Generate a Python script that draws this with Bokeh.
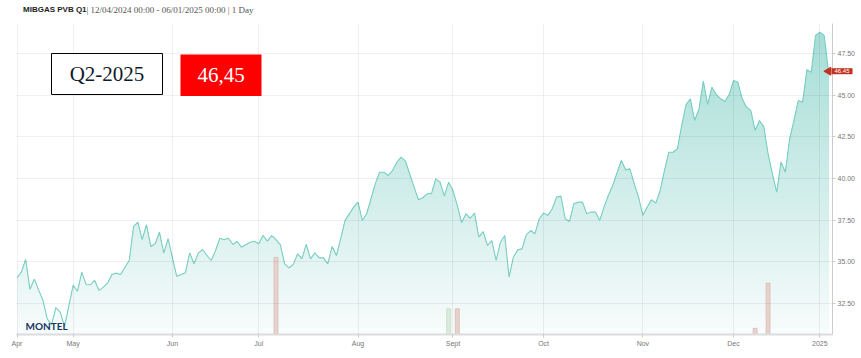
import numpy as np
import pandas as pd
from bokeh.plotting import figure
from bokeh.models import Range1d, FixedTicker, NumeralTickFormatter, BoxAnnotation, Label
from bokeh.embed import file_html
from bokeh.resources import INLINE

# ---------------- data ----------------
start_date = "2024-04-12"
end_date = "2025-01-06"
holidays = ["2024-12-25", "2024-12-26", "2025-01-01"]

dates = [
    "2024-04-12", "2024-04-15", "2024-04-16", "2024-04-17", "2024-04-18", "2024-04-22", "2024-04-23",
    "2024-04-24", "2024-04-25", "2024-04-26", "2024-04-29",
    "2024-05-01", "2024-05-02", "2024-05-03", "2024-05-06", "2024-05-07", "2024-05-08", "2024-05-09",
    "2024-05-10", "2024-05-13", "2024-05-14", "2024-05-15", "2024-05-16", "2024-05-20", "2024-05-21",
    "2024-05-22", "2024-05-23", "2024-05-24", "2024-05-27", "2024-05-28", "2024-05-29", "2024-05-30",
    "2024-05-31",
    "2024-06-04", "2024-06-06", "2024-06-07", "2024-06-10", "2024-06-11", "2024-06-12", "2024-06-13",
    "2024-06-14", "2024-06-17", "2024-06-18", "2024-06-19", "2024-06-20", "2024-06-21", "2024-06-24",
    "2024-06-25", "2024-06-27", "2024-06-28",
    "2024-07-01", "2024-07-02", "2024-07-03", "2024-07-04", "2024-07-05", "2024-07-08", "2024-07-09",
    "2024-07-10", "2024-07-11", "2024-07-12", "2024-07-15", "2024-07-16", "2024-07-17", "2024-07-18",
    "2024-07-19", "2024-07-22", "2024-07-23", "2024-07-24", "2024-07-25", "2024-07-26", "2024-07-29",
    "2024-07-31",
    "2024-08-01", "2024-08-02", "2024-08-05", "2024-08-07", "2024-08-08", "2024-08-09", "2024-08-12",
    "2024-08-13", "2024-08-14", "2024-08-15", "2024-08-16", "2024-08-20", "2024-08-21", "2024-08-22",
    "2024-08-23", "2024-08-26", "2024-08-27", "2024-08-28", "2024-08-29", "2024-08-30",
    "2024-09-02", "2024-09-03", "2024-09-04", "2024-09-05", "2024-09-06", "2024-09-09", "2024-09-10",
    "2024-09-11", "2024-09-12", "2024-09-13", "2024-09-16", "2024-09-17", "2024-09-18", "2024-09-19",
    "2024-09-20", "2024-09-23", "2024-09-24", "2024-09-25", "2024-09-26", "2024-09-27", "2024-09-30",
    "2024-10-01", "2024-10-02", "2024-10-03", "2024-10-04", "2024-10-07", "2024-10-08", "2024-10-09",
    "2024-10-10", "2024-10-11", "2024-10-14", "2024-10-15", "2024-10-16", "2024-10-17", "2024-10-18",
    "2024-10-21", "2024-10-22", "2024-10-23", "2024-10-25", "2024-10-28", "2024-10-29", "2024-10-30",
    "2024-10-31",
    "2024-11-01", "2024-11-04", "2024-11-05", "2024-11-06", "2024-11-07", "2024-11-08", "2024-11-11",
    "2024-11-12", "2024-11-13", "2024-11-14", "2024-11-15", "2024-11-18", "2024-11-19", "2024-11-20",
    "2024-11-21", "2024-11-22", "2024-11-25", "2024-11-26", "2024-11-27", "2024-11-28", "2024-11-29",
    "2024-12-02", "2024-12-03", "2024-12-04", "2024-12-05", "2024-12-06", "2024-12-09", "2024-12-10",
    "2024-12-11", "2024-12-12", "2024-12-13", "2024-12-16", "2024-12-17", "2024-12-18", "2024-12-19",
    "2024-12-20", "2024-12-23", "2024-12-24", "2024-12-27", "2024-12-30", "2024-12-31",
    "2025-01-02", "2025-01-03", "2025-01-06",
]

prices = [
    34.03, 34.37, 35.13, 33.33, 33.95, 32.67, 31.56,
    31.20, 32.23, 31.96, 31.10,
    33.57, 33.22, 34.37, 33.63, 33.61, 33.87, 33.27,
    33.47, 33.71, 34.23, 34.31, 34.23, 35.07, 37.12,
    37.37, 36.32, 37.22, 35.91, 36.08, 36.77, 35.51,
    36.38,
    34.11, 34.33, 35.53, 34.87, 35.51, 35.73, 35.37,
    35.07, 35.67, 36.41, 36.32, 36.41, 36.03, 36.21,
    35.87, 36.17, 36.23,
    36.08, 36.57, 36.23, 36.57, 36.33, 36.03, 34.87,
    34.63, 34.83, 35.47, 35.17, 36.03, 35.17, 35.53,
    35.23, 35.23, 34.87, 35.91, 35.37, 36.38, 37.48,
    38.28,
    38.58, 37.48, 37.88, 39.68, 40.38, 40.38, 40.18,
    40.48, 40.98, 41.28, 41.04, 39.48, 38.72, 38.84,
    39.08, 39.08, 39.98, 39.78, 38.94, 39.78,
    39.28, 38.38, 37.34, 37.88, 37.61, 37.92, 36.47,
    36.81, 35.97, 36.27, 35.07, 36.17, 36.57, 34.07,
    35.27, 35.71, 35.77, 36.63, 36.87, 36.68, 37.58,
    37.92, 37.78, 38.18, 38.88, 38.94, 37.58, 37.42,
    38.48, 38.58, 38.58, 37.88, 37.98, 37.98, 37.48,
    38.28, 38.98, 39.58, 41.08, 40.52, 40.58, 39.68,
    38.88,
    37.78, 38.28, 38.72, 38.52, 39.28, 40.48, 41.58,
    41.58, 41.79, 43.19, 44.45, 44.79, 43.49, 44.19,
    45.85, 44.45, 45.49, 45.05, 44.79, 44.63, 45.05,
    45.89, 45.79, 44.79, 44.29, 44.09, 42.89, 43.49,
    43.13, 41.49, 40.28, 39.18, 40.98, 40.38, 42.39,
    43.49, 44.69, 44.59, 46.54, 46.39, 48.60,
    48.80, 48.60, 46.45,
]

vol_dates = ["2024-07-05", "2024-08-30", "2024-09-03", "2024-12-09", "2024-12-12"]
vol_values = [150, 50, 50, 12, 100]
vol_side = ["sell", "buy", "sell", "sell", "sell"]

month_labels = ["Apr", "May", "Jun", "Jul", "Aug", "Sept", "Oct", "Nov", "Dec", "2025"]
y_ticks = [32.5, 35.0, 37.5, 40.0, 42.5, 45.0, 47.5]

title_bold = "MIBGAS PVB Q1"
title_rest = "| 12/04/2024 00:00 - 06/01/2025 00:00 | 1 Day"
product = "Q2-2025"

# ---------------- ordinal (trading-day) axis ----------------
cal = pd.bdate_range(start_date, end_date)
cal = cal[~cal.isin(pd.to_datetime(holidays))]
pos = {d: i for i, d in enumerate(cal)}
x = np.array([pos[pd.Timestamp(d)] for d in dates], dtype=float)
y = np.array(prices, dtype=float)
vx = np.array([pos[pd.Timestamp(d)] for d in vol_dates], dtype=float)

idx_series = pd.Series(np.arange(len(cal)), index=cal)
month_first = idx_series.groupby([cal.year, cal.month]).min().values.tolist()

# ---------------- figure ----------------
p = figure(width=861, height=358,
           x_range=Range1d(-0.12, len(cal) - 1 + 0.93),
           y_range=Range1d(30.62, 49.32),
           y_axis_location="right",
           output_backend="svg", toolbar_location=None,
           min_border_left=16, min_border_right=29, min_border_top=23, min_border_bottom=24,
           background_fill_color="white", border_fill_color="white",
           outline_line_color=None)

p.extra_y_ranges = {"vol": Range1d(0, 605)}

# gradient-like fill under the line (opaque layered bands)
y0, y1 = p.y_range.start, p.y_range.end
N = 48
edges = np.linspace(y0, y1, N + 1)
top_rgb = np.array([163, 220, 213])
bot_rgb = np.array([248, 252, 252])
for k in range(N - 1, -1, -1):
    t = (k + 0.5) / N
    c = (bot_rgb + (top_rgb - bot_rgb) * t).round().astype(int)
    col = "#%02x%02x%02x" % tuple(c)
    upper = y if k == N - 1 else np.minimum(y, edges[k + 1])
    p.varea(x=x, y1=y0, y2=upper, fill_color=col, fill_alpha=1.0)

# volume bars
bar_fill = {"sell": "#e8d2cd", "buy": "#dcebdc"}
bar_line = {"sell": "#d9b9b1", "buy": "#c4dcc6"}
p.vbar(x=vx, top=vol_values, bottom=0, width=0.9, y_range_name="vol",
       fill_color=[bar_fill[s] for s in vol_side],
       line_color=[bar_line[s] for s in vol_side], line_width=0.8)

# price line
p.line(x, y, line_color="#7acfc2", line_width=1.1)

# last value flag (arrow in frame, label in a side panel so it is not clipped)
p.scatter([x[-1]], [y[-1]], marker="triangle", angle=np.pi / 2, size=8,
          fill_color="#c0311f", line_color="#c0311f")
p.add_layout(Label(x=815, x_units="screen", y=y[-1], y_units="data", text="%.2f" % y[-1],
                   text_font="Liberation Sans", text_font_size="6px", text_color="white",
                   text_baseline="middle", text_align="left",
                   background_fill_color="#c0311f", padding=(3, 1)), "below")

# axes styling
p.xaxis.ticker = FixedTicker(ticks=month_first)
p.xaxis.major_label_overrides = {int(t): lab for t, lab in zip(month_first, month_labels)}
p.xaxis.axis_line_color = "#dcdcdc"
p.xaxis.axis_line_width = 2
p.xaxis.major_tick_line_color = "#cccccc"
p.xaxis.major_tick_in = 0
p.xaxis.major_tick_out = 3
p.xaxis.minor_tick_line_color = None
p.xaxis.major_label_text_font = "Liberation Sans"
p.xaxis.major_label_text_font_size = "7px"
p.xaxis.major_label_text_color = "#777777"
p.xaxis.major_label_standoff = 2

p.yaxis.ticker = FixedTicker(ticks=y_ticks)
p.yaxis.formatter = NumeralTickFormatter(format="0.00")
p.yaxis.axis_line_color = "#cccccc"
p.yaxis.major_tick_line_color = "#cccccc"
p.yaxis.major_tick_in = 0
p.yaxis.major_tick_out = 3
p.yaxis.minor_tick_line_color = None
p.yaxis.major_label_text_font = "Liberation Sans"
p.yaxis.major_label_text_font_size = "7px"
p.yaxis.major_label_text_color = "#777777"
p.yaxis.major_label_standoff = 2

p.xgrid.ticker = FixedTicker(ticks=month_first)
p.ygrid.ticker = FixedTicker(ticks=y_ticks)
for g in (p.xgrid, p.ygrid):
    g.grid_line_color = "#000000"
    g.grid_line_alpha = 0.06
    g.level = "guide"

# title (two styles), placed in the top side panel
p.add_layout(Label(x=6.5, y=10, x_units="screen", y_units="screen", text=title_bold,
                   text_font="Liberation Sans", text_font_style="bold", text_font_size="8px",
                   text_color="#222222"), "above")
p.add_layout(Label(x=70, y=0, x_units="screen", y_units="screen", text=title_rest,
                   text_font="Liberation Serif", text_font_size="9px", text_color="#555555"),
             "above")

# overlay boxes
p.add_layout(BoxAnnotation(left=35, right=146, bottom=240, top=281,
                           left_units="screen", right_units="screen",
                           bottom_units="screen", top_units="screen",
                           fill_color="white", fill_alpha=1.0,
                           line_color="black", line_width=1, line_alpha=1.0))
p.add_layout(Label(x=90.5, y=260.5, x_units="screen", y_units="screen", text=product,
                   text_font="Liberation Serif", text_font_size="21px", text_color="#0f1a2c",
                   text_align="center", text_baseline="middle"))
p.add_layout(BoxAnnotation(left=164, right=245, bottom=238.5, top=280,
                           left_units="screen", right_units="screen",
                           bottom_units="screen", top_units="screen",
                           fill_color="#ff0000", fill_alpha=1.0, line_color=None))
p.add_layout(Label(x=204.5, y=259.3, x_units="screen", y_units="screen",
                   text=("%.2f" % y[-1]).replace(".", ","),
                   text_font="Liberation Serif", text_font_size="21px", text_color="white",
                   text_align="center", text_baseline="middle"))

# logo
p.add_layout(Label(x=9, y=3, x_units="screen", y_units="screen", text="MONTEL",
                   text_font="Lato", text_font_style="bold", text_font_size="10px",
                   text_color="#15365f"))

open("out.html", "w").write(file_html(p, INLINE))
